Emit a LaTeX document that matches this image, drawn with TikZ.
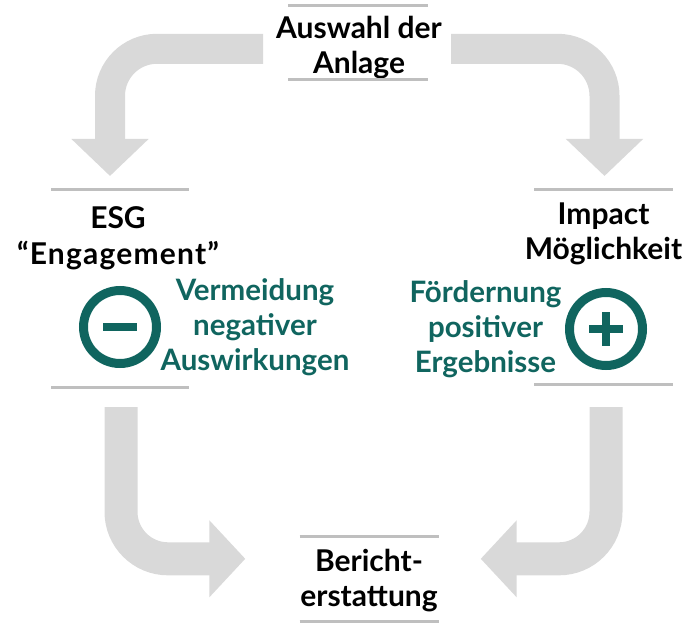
\documentclass[tikz,border=0pt]{standalone}
\usepackage{fontspec}
\setmainfont{Lato}
\usetikzlibrary{arrows.meta,calc}
\definecolor{loopgray}{HTML}{D9D9D9}
\definecolor{rulegray}{HTML}{BFBFBF}
\definecolor{impactteal}{HTML}{10655F}
\tikzset{
  step label/.style={font=\fontsize{30}{35.5}\selectfont\bfseries,align=center,
    inner sep=0pt,anchor=north,minimum width=139pt},
  goal label/.style={font=\fontsize{29.5}{35}\selectfont\bfseries,align=center,
    inner sep=0pt,anchor=north,text=impactteal},
  rulebar/.style={rulegray,line width=3pt},
  sign/.style={circle,draw=impactteal,line width=9pt,minimum size=73pt,inner sep=0pt},
  signbar/.style={impactteal,line width=7.5pt},
  flow top/.style={loopgray,line width=30pt,rounded corners=47pt,
    -{Triangle[length=37pt,width=75pt]}},
  flow low/.style={loopgray,line width=33pt,rounded corners=47pt,
    -{Triangle[length=36pt,width=75pt]}}
}
\begin{document}
\begin{tikzpicture}[x=1pt,y=-1pt]
  \useasboundingbox (0,0) rectangle (700,631);
  % Steps of the loop
  \node[step label] (auswahl) at (359,16) {Auswahl der\\Anlage};
  \node[step label] (esg) at (118,206.5) {ESG\\\addfontfeature{LetterSpace=4}``Engagement''};
  \node[step label] (impact) at (603.5,202.5) {Impact\\Möglichkeit};
  \node[step label] (bericht) at (369,549) {Bericht-\\erstattung};
  % Lower ends of the two middle steps
  \coordinate (esgfoot) at (120,387);
  \coordinate (impactfoot) at (603.5,384);
  % Rules above and below the steps
  \draw[rulebar] (288,6) -- (428,6);
  \draw[rulebar] (288,80) -- (428,80);
  \draw[rulebar] ($(esg.north)+(-67,-17.5)$) -- ($(esg.north)+(71,-17.5)$);
  \draw[rulebar] ($(esgfoot)+(-69,0)$) -- ($(esgfoot)+(69,0)$);
  \draw[rulebar] ($(impact.north)+(-69.5,-13.5)$) -- ($(impact.north)+(69.5,-13.5)$);
  \draw[rulebar] ($(impactfoot)+(-69.5,0)$) -- ($(impactfoot)+(69.5,0)$);
  \draw[rulebar] (299.5,536) -- (438.5,536);
  \draw[rulebar] (299.5,621) -- (438.5,621);
  % Loop arrows
  \draw[flow top,shorten <=13pt,shorten >=30.5pt] ([yshift=-1pt]auswahl.west) -| ([xshift=-8pt]esg.north);
  \draw[flow top,shorten <=9pt,shorten >=26.5pt] ([yshift=-1pt]auswahl.east) -| ([xshift=1pt]impact.north);
  \draw[flow low,shorten <=20pt,shorten >=54pt] ([xshift=1pt]esgfoot) |- ([yshift=22pt]bericht.west);
  \draw[flow low,shorten <=23pt,shorten >=42pt] ([xshift=2.5pt]impactfoot) |- ([yshift=22pt]bericht.east);
  % Minus side
  \node[sign] (minus) at (120,327) {};
  \draw[signbar] ($(minus.center)+(-17,0)$) -- ($(minus.center)+(17,0)$);
  \node[goal label] (vermeidung) at (255,278.5) {Vermeidung\\negativer\\Auswirkungen};
  % Plus side
  \node[sign] (plus) at (606,329) {};
  \draw[signbar] ($(plus.center)+(-17,0)$) -- ($(plus.center)+(17,0)$);
  \draw[signbar] ($(plus.center)+(0,-17)$) -- ($(plus.center)+(0,17)$);
  \node[goal label] (foerderung) at (485.5,280.5) {Fördernung\\positiver\\Ergebnisse};
\end{tikzpicture}
\end{document}
